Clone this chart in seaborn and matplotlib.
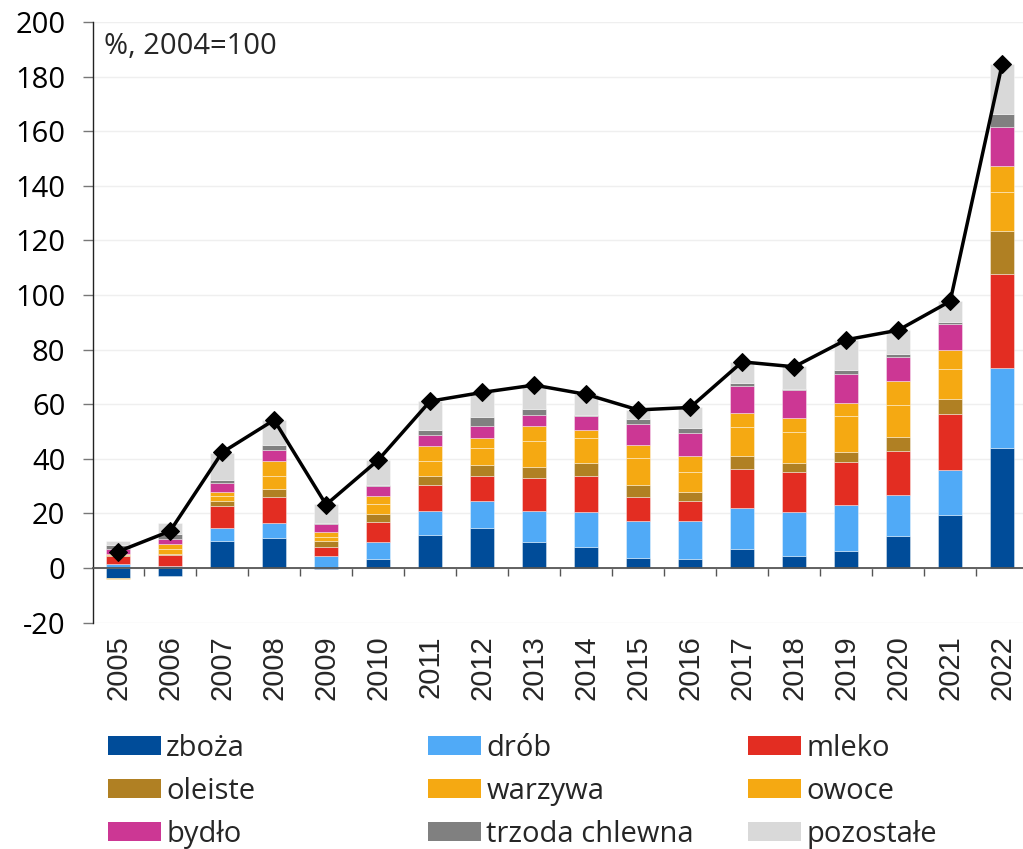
import numpy as np
import pandas as pd
import matplotlib
matplotlib.use("Agg")
import matplotlib.pyplot as plt
import seaborn as sns
from matplotlib.patches import Patch
from matplotlib.ticker import FixedLocator, NullFormatter

# Data (% change, 2004=100)
years = [str(y) for y in range(2005, 2023)]
zboza = [-3.8, -3.0, 10.0, 10.9, -0.4, 3.4, 12.2, 14.8, 9.6, 7.8, 3.7, 3.4, 7.1, 4.5, 6.4, 11.6, 19.3, 44.1]
drob = [1.5, 0.9, 4.8, 5.4, 4.5, 6.1, 8.5, 9.6, 11.2, 12.7, 13.5, 13.8, 14.8, 16.0, 16.8, 15.3, 16.5, 29.0]
mleko = [3.0, 3.8, 7.8, 9.6, 3.0, 7.4, 9.8, 9.4, 12.2, 13.3, 8.9, 7.4, 14.5, 14.8, 15.7, 15.9, 20.5, 34.6]
oleiste = [0.3, 0.5, 1.9, 2.9, 2.2, 2.9, 3.3, 3.9, 4.0, 4.8, 4.3, 3.2, 4.6, 3.3, 3.5, 5.0, 5.6, 15.7]
warzywa = [0.3, 1.8, 1.8, 5.0, 1.7, 3.5, 5.4, 6.1, 9.4, 8.9, 9.8, 7.4, 10.6, 11.1, 13.3, 12.0, 11.1, 14.5]
owoce = [-0.3, 1.6, 1.7, 5.3, 1.6, 3.2, 5.4, 3.9, 5.5, 3.1, 5.0, 6.0, 5.1, 5.1, 4.7, 8.8, 6.8, 9.2]
bydlo = [1.8, 2.1, 3.0, 4.2, 3.2, 3.4, 4.2, 4.4, 4.0, 4.9, 7.7, 8.3, 9.8, 10.4, 10.6, 8.8, 9.7, 14.5]
trzoda = [1.6, 1.9, 1.3, 1.9, 0.4, 0.5, 1.8, 3.2, 2.3, 0.6, 1.7, 1.7, 1.3, 0.3, 1.6, 0.8, 0.6, 4.7]
pozostale = [1.2, 3.9, 9.9, 9.0, 6.8, 9.0, 10.7, 9.0, 8.8, 7.5, 3.3, 7.6, 7.6, 8.5, 11.0, 8.8, 7.6, 18.3]
razem = [6.0, 13.5, 42.3, 54.2, 23.2, 39.5, 61.1, 64.3, 67.0, 63.6, 57.9, 58.8, 75.5, 73.7, 83.6, 87.1, 97.7, 184.6]

series = [
    ("zboża", zboza, "#004C99"),
    ("drób", drob, "#50AAF7"),
    ("mleko", mleko, "#E32D22"),
    ("oleiste", oleiste, "#B08023"),
    ("warzywa", warzywa, "#F5A912"),
    ("owoce", owoce, "#F5A912"),
    ("bydło", bydlo, "#CC3794"),
    ("trzoda chlewna", trzoda, "#808080"),
    ("pozostałe", pozostale, "#D9D9D9"),
]

sns.set_theme(style="white")
plt.rcParams["font.family"] = ["Open Sans", "DejaVu Sans"]
plt.rcParams["axes.unicode_minus"] = False

fig = plt.figure(figsize=(10.23, 8.49), dpi=100)
ax = fig.add_axes([0.091, 0.2667, 0.909, 0.7074])

# stacked bars: positives up from 0, negatives down from 0
pos_base = np.zeros(len(years))
neg_base = np.zeros(len(years))
for name, vals, col in series:
    v = np.array(vals, dtype=float)
    bottom = np.where(v >= 0, pos_base, neg_base)
    df = pd.DataFrame({"rok": years, "wartosc": v})
    sns.barplot(data=df, x="rok", y="wartosc", bottom=bottom, color=col,
                saturation=1, width=0.47, errorbar=None, ax=ax,
                edgecolor=(1, 1, 1, 0.45), linewidth=0.6, zorder=2)
    pos_base += np.where(v >= 0, v, 0)
    neg_base += np.where(v < 0, v, 0)

# total line
sns.lineplot(x=np.arange(len(years)), y=razem, color="black", linewidth=2.5,
             marker="D", markersize=9, markeredgecolor="black", ax=ax, zorder=5)

ax.set_xlim(-0.48, 17.4)
ax.set_ylim(-20, 200)
ax.set_xlabel("")
ax.set_ylabel("")

# y axis
ax.set_yticks(range(-20, 201, 20))
ax.yaxis.grid(True, color="#EFEFEF", linewidth=1, zorder=0)
ax.set_axisbelow(True)
ax.tick_params(axis="y", which="major", left=True, length=7, width=1,
               color="#777777", labelsize=21, pad=13, labelcolor="black")

for s in ["top", "right"]:
    ax.spines[s].set_visible(False)
ax.spines["left"].set_color("#222222")
ax.spines["left"].set_linewidth(1.0)
ax.spines["bottom"].set_position(("data", 0))
ax.spines["bottom"].set_color("#555555")
ax.spines["bottom"].set_linewidth(1.3)
ax.spines["bottom"].set_zorder(3)

# ticks between categories on the zero line
ax.xaxis.set_major_formatter(NullFormatter())
ax.tick_params(axis="x", which="major", length=0)
ax.xaxis.set_minor_locator(FixedLocator(np.arange(0.5, len(years) - 1, 1.0)))
ax.tick_params(axis="x", which="minor", bottom=True, length=6, width=1, color="#555555", direction="out")

# year labels below the plot
sec = ax.secondary_xaxis("bottom")
sec.set_xticks(np.arange(len(years)))
sec.set_xticklabels(years, rotation=90, fontsize=21, family=["Liberation Sans", "DejaVu Sans"])
sec.tick_params(length=0, pad=9)
sec.spines["bottom"].set_visible(False)

fig.text(104 / 1023, 1 - 46 / 849, "%, 2004=100", fontsize=21, va="center", ha="left")

# legend, three columns placed separately
handles = [Patch(facecolor=c, edgecolor="none") for _, _, c in series]
labels = [n for n, _, _ in series]
col_x = [108 / 1023, 428 / 1023, 748 / 1023]
for j in range(3):
    idx = [j, j + 3, j + 6]
    leg = fig.legend([handles[i] for i in idx], [labels[i] for i in idx],
                     loc="upper left", bbox_to_anchor=(col_x[j], 1 - 734 / 849),
                     frameon=False, fontsize=21, handlelength=1.8, handleheight=0.6,
                     handletextpad=0.2, labelspacing=0.48, borderpad=0, borderaxespad=0)

fig.savefig("out.png", dpi=100)
